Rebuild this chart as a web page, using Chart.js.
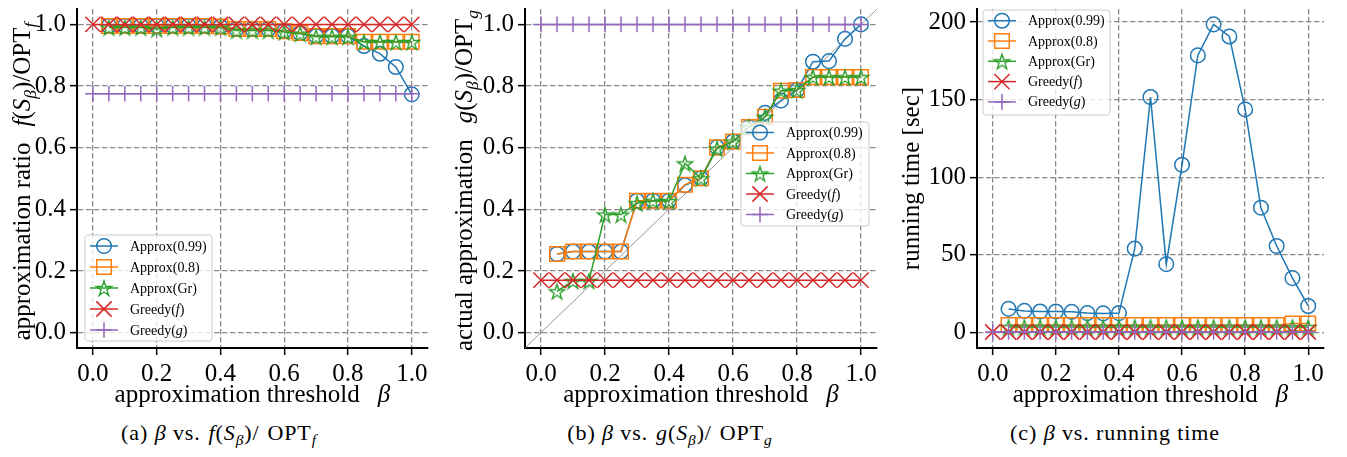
<!DOCTYPE html>
<html>
<head>
<meta charset="utf-8">
<script src="https://cdn.jsdelivr.net/npm/chart.js@4.4.1/dist/chart.umd.min.js"></script>
<style>
  body { margin: 0; width: 1347px; height: 457px; background: #fff; position: relative; overflow: hidden; font-family: "Liberation Serif", serif; }
  canvas { position: absolute; top: -10px; }
  .cap { position: absolute; top: 421px; font-size: 22px; line-height: 24px; letter-spacing: 0.9px; white-space: nowrap; transform: translateX(-50%); }
  .cap sub { font-size: 70%; vertical-align: -0.3em; line-height: 0; }
  .cap .m { margin: 0 1.5px; }
</style>
</head>
<body>
<canvas id="ca" width="440" height="420" style="left:0px"></canvas>
<canvas id="cb" width="440" height="420" style="left:450px"></canvas>
<canvas id="cc" width="440" height="420" style="left:900px"></canvas>
<div class="cap" style="left:219px">(a) <i>β</i> vs. <span class="m"><i>f</i>(<i>S</i><sub><i>β</i></sub>)/</span> OPT<sub><i>f</i></sub></div>
<div class="cap" style="left:670px">(b) <i>β</i> vs. <span class="m"><i>g</i>(<i>S</i><sub><i>β</i></sub>)/</span> OPT<sub><i>g</i></sub></div>
<div class="cap" style="left:1115px">(c) <i>β</i> vs. running time</div>
<script>
// beta values: Approx runs start at 0.05, Greedy at 0.0
const betaApprox = [0.05, 0.1, 0.15, 0.2, 0.25, 0.3, 0.35, 0.4, 0.45, 0.5, 0.55, 0.6, 0.65, 0.7, 0.75, 0.8, 0.85, 0.9, 0.95, 1.0];
const betaGreedy = [0.0, 0.05, 0.1, 0.15, 0.2, 0.25, 0.3, 0.35, 0.4, 0.45, 0.5, 0.55, 0.6, 0.65, 0.7, 0.75, 0.8, 0.85, 0.9, 0.95, 1.0];
const seriesNames = ['Approx(0.99)', 'Approx(0.8)', 'Approx(Gr)', 'Greedy(f)', 'Greedy(g)'];

// (a) f(S_beta)/OPT_f
const fA99 = [0.995, 0.995, 0.995, 0.995, 0.995, 0.995, 0.995, 0.993, 0.985, 0.985, 0.985, 0.978, 0.972, 0.962, 0.962, 0.962, 0.93, 0.905, 0.862, 0.773];
const fA08 = [0.995, 0.995, 0.995, 0.995, 0.995, 0.995, 0.995, 0.993, 0.985, 0.985, 0.985, 0.978, 0.972, 0.962, 0.962, 0.962, 0.944, 0.944, 0.944, 0.944];
const fAGr = [0.99, 0.99, 0.99, 0.985, 0.99, 0.99, 0.99, 0.99, 0.98, 0.98, 0.98, 0.975, 0.97, 0.96, 0.96, 0.96, 0.943, 0.943, 0.943, 0.943];
const fGf = [1, 1, 1, 1, 1, 1, 1, 1, 1, 1, 1, 1, 1, 1, 1, 1, 1, 1, 1, 1, 1];
const fGg = [0.775, 0.775, 0.775, 0.775, 0.775, 0.775, 0.775, 0.775, 0.775, 0.775, 0.775, 0.775, 0.775, 0.775, 0.775, 0.775, 0.775, 0.775, 0.775, 0.775, 0.775];

// (b) g(S_beta)/OPT_g
const gA99 = [0.255, 0.263, 0.263, 0.263, 0.263, 0.428, 0.428, 0.428, 0.478, 0.501, 0.601, 0.62, 0.667, 0.713, 0.753, 0.787, 0.879, 0.881, 0.953, 1.0];
const gA08 = [0.255, 0.263, 0.263, 0.263, 0.263, 0.428, 0.428, 0.428, 0.48, 0.501, 0.601, 0.62, 0.667, 0.70, 0.785, 0.787, 0.829, 0.829, 0.829, 0.829];
const gAGr = [0.134, 0.168, 0.168, 0.383, 0.383, 0.42, 0.428, 0.427, 0.549, 0.501, 0.597, 0.62, 0.667, 0.70, 0.785, 0.787, 0.829, 0.829, 0.829, 0.829];
const gGf = [0.17, 0.17, 0.17, 0.17, 0.17, 0.17, 0.17, 0.17, 0.17, 0.17, 0.17, 0.17, 0.17, 0.17, 0.17, 0.17, 0.17, 0.17, 0.17, 0.17, 0.17];
const gGg = [1, 1, 1, 1, 1, 1, 1, 1, 1, 1, 1, 1, 1, 1, 1, 1, 1, 1, 1, 1, 1];
const diagX = [-0.05, 1.05];
const diagY = [-0.05, 1.05];

// (c) running time [sec]
const tA99 = [15.2, 13.9, 13.5, 13.5, 13.3, 12.5, 12.3, 12.5, 54, 151.7, 44, 108, 178.5, 198.5, 190.7, 143.7, 80.4, 55.7, 35, 17.1];
const tA08 = [4.8, 4.8, 4.8, 4.8, 4.8, 4.8, 4.8, 4.8, 4.8, 4.8, 4.8, 4.8, 4.8, 4.8, 4.8, 4.8, 4.8, 4.8, 5.8, 5.8];
const tAGr = [3.5, 3.5, 3.5, 3.5, 3.5, 3.5, 3.5, 3.5, 3.5, 3.5, 3.5, 3.5, 3.5, 3.5, 3.5, 3.5, 3.5, 3.5, 3.5, 3.5];
const tGf = [0.3, 0.3, 0.3, 0.3, 0.3, 0.3, 0.3, 0.3, 0.3, 0.3, 0.3, 0.3, 0.3, 0.3, 0.3, 0.3, 0.3, 0.3, 0.3, 0.3, 0.3];
const tGg = [0.3, 0.3, 0.3, 0.3, 0.3, 0.3, 0.3, 0.3, 0.3, 0.3, 0.3, 0.3, 0.3, 0.3, 0.3, 0.3, 0.3, 0.3, 0.3, 0.3, 0.3];

const FONT = '"Liberation Serif", serif';
const TITLE_SIZE = 25;

// five-pointed star marker (Chart.js 'star' is an asterisk)
function makeStar(color, R) {
  const c = document.createElement('canvas');
  const s = Math.ceil(2 * R + 4);
  c.width = s; c.height = s;
  const g = c.getContext('2d');
  const r = R * 0.382;
  g.beginPath();
  for (let i = 0; i < 10; i++) {
    const rad = (i % 2 ? r : R);
    const a = -Math.PI / 2 + i * Math.PI / 5;
    const px = s / 2 + rad * Math.cos(a), py = s / 2 + 1 + rad * Math.sin(a);
    if (i === 0) g.moveTo(px, py); else g.lineTo(px, py);
  }
  g.closePath();
  g.strokeStyle = color; g.lineWidth = 1.4; g.lineJoin = 'miter';
  g.stroke();
  return c;
}

const styles = [
  { color: '#1f77b4', point: 'circle', r: 7.3 },
  { color: '#ff7f0e', point: 'rect', r: 10.3 },
  { color: '#2ca02c', point: makeStar('#2ca02c', 8), r: 8 },
  { color: '#d62728', point: 'crossRot', r: 10.8 },
  { color: '#9467bd', point: 'cross', r: 7.8 }
];

function series(xs, ys, i) {
  const s = styles[i];
  return {
    label: seriesNames[i],
    data: xs.map((x, k) => ({ x: x, y: ys[k] })),
    borderColor: s.color, backgroundColor: 'rgba(0,0,0,0)', borderWidth: 1.5,
    pointStyle: s.point, pointRadius: s.r, pointHoverRadius: s.r,
    pointBorderColor: s.color, pointBackgroundColor: 'rgba(0,0,0,0)', pointBorderWidth: 1.5,
    order: 10 - i, clip: false, tension: 0
  };
}

// rich text: segments {t, it, sub, gap}
function segFont(seg, size) {
  const s = seg.sub ? size * 0.7 : size;
  return (seg.it ? 'italic ' : '') + s + 'px ' + FONT;
}
function measureRich(ctx, segs, size) {
  let w = 0;
  segs.forEach(seg => {
    if (seg.gap) { w += seg.gap; return; }
    ctx.font = segFont(seg, size);
    w += ctx.measureText(seg.t).width;
  });
  return w;
}
function drawRich(ctx, segs, size, x, y) {
  ctx.textBaseline = 'alphabetic';
  ctx.textAlign = 'left';
  segs.forEach(seg => {
    if (seg.gap) { x += seg.gap; return; }
    ctx.font = segFont(seg, size);
    ctx.fillText(seg.t, x, y + (seg.sub ? size * 0.22 : 0));
    x += ctx.measureText(seg.t).width;
  });
}

function marker(ctx, s, x, y) {
  ctx.save();
  ctx.strokeStyle = s.color; ctx.lineWidth = 1.5;
  ctx.beginPath();
  if (s.point === 'circle') ctx.arc(x, y, s.r, 0, 2 * Math.PI);
  else if (s.point === 'rect') { const h = s.r * Math.SQRT1_2; ctx.rect(x - h, y - h, 2 * h, 2 * h); }
  else if (s.point === 'crossRot') {
    const h = s.r * Math.SQRT1_2;
    ctx.moveTo(x - h, y - h); ctx.lineTo(x + h, y + h); ctx.moveTo(x - h, y + h); ctx.lineTo(x + h, y - h);
  } else if (s.point === 'cross') {
    ctx.moveTo(x - s.r, y); ctx.lineTo(x + s.r, y); ctx.moveTo(x, y - s.r); ctx.lineTo(x, y + s.r);
  } else {
    ctx.drawImage(s.point, x - s.point.width / 2, y - s.point.height / 2);
  }
  ctx.stroke();
  ctx.restore();
}

const legendLabels = [
  [{ t: 'Approx(0.99)' }],
  [{ t: 'Approx(0.8)' }],
  [{ t: 'Approx(Gr)' }],
  [{ t: 'Greedy(' }, { t: 'f', it: 1 }, { t: ')' }],
  [{ t: 'Greedy(' }, { t: 'g', it: 1 }, { t: ')' }]
];

const xTitle = [{ t: 'approximation threshold' }, { gap: 18 }, { t: 'β', it: 1 }];

const deco = {
  id: 'deco',
  afterDraw(chart, args, o) {
    const ctx = chart.ctx, a = chart.chartArea;
    ctx.save();
    ctx.fillStyle = '#000';
    // x title
    const wx = measureRich(ctx, xTitle, TITLE_SIZE);
    drawRich(ctx, xTitle, TITLE_SIZE, (a.left + a.right) / 2 - wx / 2, o.xBase);
    // y title, rotated
    ctx.save();
    ctx.translate(o.yBase, (a.top + a.bottom) / 2 + (o.yShift || 0));
    ctx.rotate(-Math.PI / 2);
    const wy = measureRich(ctx, o.ytitle, TITLE_SIZE);
    drawRich(ctx, o.ytitle, TITLE_SIZE, -wy / 2, 0);
    ctx.restore();
    // legend box
    const L = o.legend;
    ctx.beginPath();
    if (ctx.roundRect) ctx.roundRect(L.x, L.y, L.w, L.h, 3); else ctx.rect(L.x, L.y, L.w, L.h);
    ctx.fillStyle = 'rgba(255,255,255,0.8)';
    ctx.fill();
    ctx.strokeStyle = '#cccccc'; ctx.lineWidth = 1;
    ctx.stroke();
    legendLabels.forEach((lab, i) => {
      const y = L.y + L.first + i * L.dy;
      const s = styles[i];
      ctx.strokeStyle = s.color; ctx.lineWidth = 1.5;
      ctx.beginPath(); ctx.moveTo(L.x + 5, y); ctx.lineTo(L.x + 33, y); ctx.stroke();
      marker(ctx, s, L.x + 19, y);
      ctx.fillStyle = '#000';
      drawRich(ctx, lab, 14, L.x + 45, y + 4.5);
    });
    ctx.restore();
  }
};

function axis(min, max, step, fmt, fit) {
  return {
    type: 'linear', min: min, max: max,
    ticks: { stepSize: step, includeBounds: false, callback: fmt, font: { family: FONT, size: 25 }, color: '#000', padding: 4, maxRotation: 0, autoSkip: false },
    grid: { color: '#8a8a8a', lineWidth: 1.3, tickColor: '#000', tickLength: 7, tickWidth: 1.5, tickBorderDash: [] },
    border: { display: true, color: '#000', width: 2, dash: [5.5, 2.5] },
    afterFit: fit
  };
}

function makeChart(id, datasets, yMin, yMax, yStep, yFmt, yWidth, pad, decoOpts) {
  return new Chart(document.getElementById(id), {
    type: 'line',
    data: { datasets: datasets },
    options: {
      responsive: false, animation: false, events: [],
      layout: { padding: pad },
      plugins: { legend: { display: false }, tooltip: { enabled: false }, deco: decoOpts },
      scales: {
        x: axis(-0.05, 1.05, 0.2, v => v.toFixed(1), s => { s.height = 62; }),
        y: axis(yMin, yMax, yStep, yFmt, s => { s.width = yWidth; })
      }
    },
    plugins: [deco]
  });
}

const fmt1 = v => v.toFixed(1);

makeChart('ca', [
  series(betaApprox, fA99, 0), series(betaApprox, fA08, 1), series(betaApprox, fAGr, 2),
  series(betaGreedy, fGf, 3), series(betaGreedy, fGg, 4)
], -0.05, 1.05, 0.2, fmt1, 77, { top: 9, right: 12, left: 0, bottom: 0 }, {
  xBase: 412, yBase: 30, yShift: 3,
  ytitle: [{ t: 'approximation ratio' }, { gap: 16 }, { t: 'f', it: 1 }, { t: '(' }, { t: 'S', it: 1 }, { t: 'β', it: 1, sub: 1 }, { t: ')/OPT' }, { t: 'f', it: 1, sub: 1 }],
  legend: { x: 85, y: 245, w: 127, h: 106, first: 11, dy: 21 }
});

makeChart('cb', [
  { data: diagX.map((x, k) => ({ x: x, y: diagY[k] })), borderColor: '#999999', borderWidth: 1, pointRadius: 0, order: 20, clip: false },
  series(betaApprox, gA99, 0), series(betaApprox, gA08, 1), series(betaApprox, gAGr, 2),
  series(betaGreedy, gGf, 3), series(betaGreedy, gGg, 4)
], -0.05, 1.05, 0.2, fmt1, 75, { top: 9, right: 13, left: 0, bottom: 0 }, {
  xBase: 412, yBase: 22, yShift: 2,
  ytitle: [{ t: 'actual approximation' }, { gap: 16 }, { t: 'g', it: 1 }, { t: '(' }, { t: 'S', it: 1 }, { t: 'β', it: 1, sub: 1 }, { t: ')/OPT' }, { t: 'g', it: 1, sub: 1 }],
  legend: { x: 291, y: 132, w: 128, h: 104, first: 10.5, dy: 20.5 }
});

makeChart('cc', [
  series(betaApprox, tA99, 0), series(betaApprox, tA08, 1), series(betaApprox, tAGr, 2),
  series(betaGreedy, tGf, 3), series(betaGreedy, tGg, 4)
], -10, 208.4, 50, v => String(v), 77, { top: 14, right: 16, left: 0, bottom: 0 }, {
  xBase: 412, yBase: 19,
  ytitle: [{ t: 'running time [sec]' }],
  legend: { x: 83, y: 20, w: 127, h: 105, first: 10.7, dy: 20.3 }
});
</script>
</body>
</html>
